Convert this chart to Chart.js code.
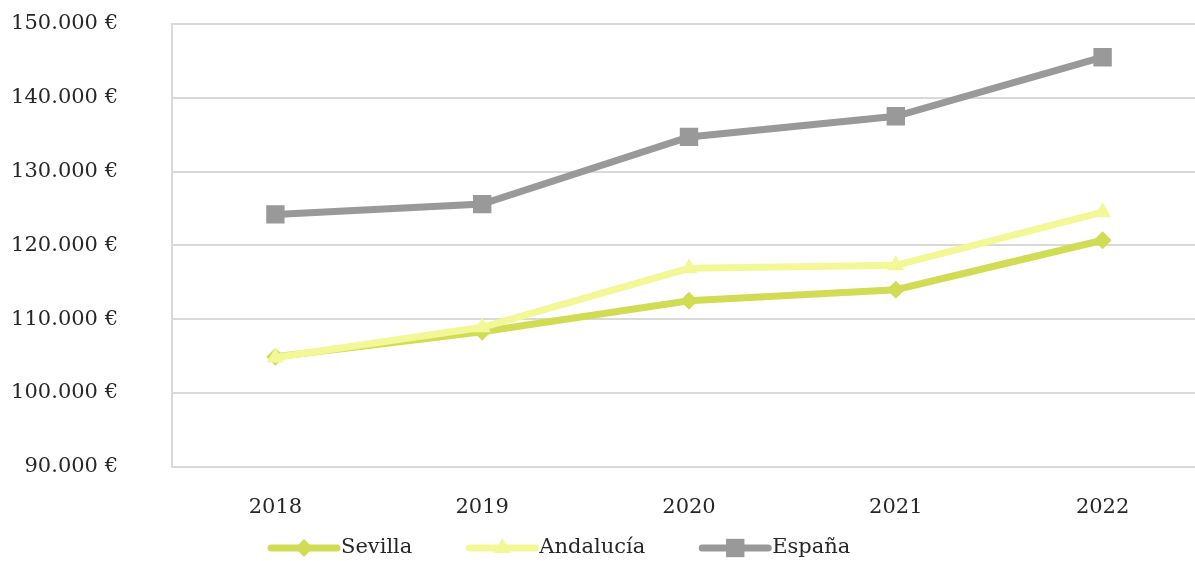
<!DOCTYPE html>
<html>
<head>
<meta charset="utf-8">
<script src="https://cdn.jsdelivr.net/npm/chart.js@4/dist/chart.umd.min.js"></script>
<style>
  html, body { margin: 0; padding: 0; background: #fff; overflow: hidden; }
</style>
</head>
<body>
<canvas id="chart" width="1219" height="561"></canvas>
<script>
var years = ['2018', '2019', '2020', '2021', '2022'];
var sevilla = [104900, 108300, 112500, 114000, 120700];
var andalucia = [104800, 108900, 116900, 117300, 124500];
var espana = [124200, 125600, 134700, 137500, 145500];
var yTicks = [90000, 100000, 110000, 120000, 130000, 140000, 150000];

var FONT = "'DejaVu Serif', serif";
var FONT_SIZE = 21;
var GRID = '#d9d9d9';
var TEXT = '#262626';
var NONE = 'rgba(0,0,0,0)';

function fmtEuro(v) {
	var s = String(Math.round(v));
	return s.replace(/\B(?=(\d{3})+(?!\d))/g, '.') + ' €';
}

var series = [
	{label: 'Sevilla', data: sevilla, color: '#d1dc55', style: 'rectRot', radius: 9, order: 2},
	{label: 'Andalucía', data: andalucia, color: '#f3f897', style: 'triangle', radius: 10, order: 1},
	{label: 'España', data: espana, color: '#999999', style: 'rect', radius: 13, order: 0}
];

var datasets = series.map(function(s) {
	return {
		label: s.label,
		data: s.data,
		borderColor: s.color,
		backgroundColor: s.color,
		borderWidth: 7,
		pointStyle: s.style,
		pointRadius: s.radius,
		pointHoverRadius: s.radius,
		pointBorderWidth: 0,
		pointBackgroundColor: s.color,
		tension: 0,
		order: s.order
	};
});

// legend: line + marker, then the name, laid out left to right
var lineLegend = {
	id: 'lineLegend',
	afterDraw: function(chart) {
		var ctx = chart.ctx;
		var x = 268, y = 548;
		ctx.save();
		ctx.font = FONT_SIZE + 'px ' + FONT;
		ctx.textBaseline = 'middle';
		series.forEach(function(s, i) {
			var ds = chart.data.datasets[i];
			ctx.strokeStyle = ds.borderColor;
			ctx.lineWidth = 7;
			ctx.lineCap = 'round';
			ctx.beginPath(); ctx.moveTo(x + 3, y); ctx.lineTo(x + 69, y); ctx.stroke();
			ctx.fillStyle = ds.backgroundColor;
			Chart.helpers.drawPoint(ctx, {
				pointStyle: ds.pointStyle, radius: ds.pointRadius, borderWidth: 0
			}, x + 36, y);
			ctx.fillStyle = TEXT;
			ctx.fillText(ds.label, x + 73, y);
			x += 73 + ctx.measureText(ds.label).width + 54;
		});
		ctx.restore();
	}
};

new Chart(document.getElementById('chart'), {
	type: 'line',
	data: { labels: years, datasets: datasets },
	plugins: [lineLegend],
	options: {
		responsive: false,
		animation: false,
		layout: { padding: { top: 24, right: 0, bottom: 41, left: 0 } },
		scales: {
			x: {
				offset: true,
				grid: { display: true, color: NONE, tickColor: NONE, tickLength: 28 },
				border: { display: true, color: GRID, width: 2 },
				ticks: { color: TEXT, padding: 0, font: { family: FONT, size: FONT_SIZE } }
			},
			y: {
				min: 90000,
				max: 150000,
				afterFit: function(scale) { scale.width = 172; },
				afterBuildTicks: function(scale) {
					scale.ticks = yTicks.map(function(v) { return {value: v}; });
				},
				grid: { color: GRID, lineWidth: 2, tickColor: NONE, tickLength: 54 },
				border: { display: true, color: GRID, width: 2 },
				ticks: {
					color: TEXT,
					padding: 0,
					font: { family: FONT, size: FONT_SIZE },
					callback: function(v) { return fmtEuro(v); }
				}
			}
		},
		plugins: {
			tooltip: { enabled: false },
			legend: { display: false }
		}
	}
});
</script>
</body>
</html>
